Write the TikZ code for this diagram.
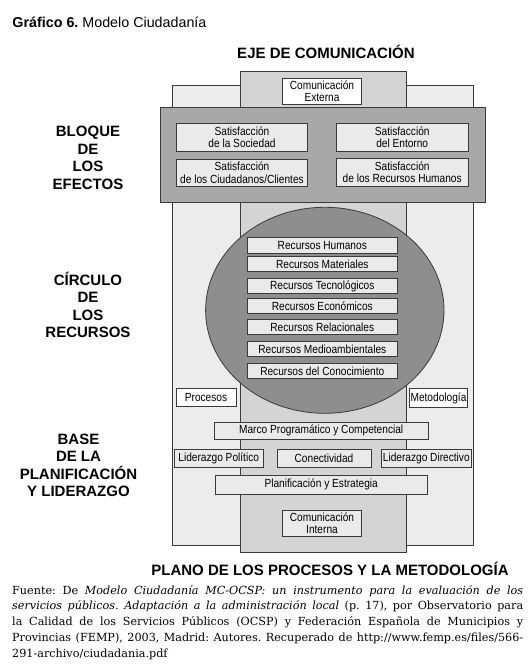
\documentclass[tikz,border=0pt]{standalone}
\usepackage{fontspec}
\setmainfont{Liberation Sans}
\newfontfamily\boxfont[FakeStretch=0.86]{Liberation Sans}
\newfontfamily\notefont{DejaVu Serif}
\usetikzlibrary{shapes.geometric}
\definecolor{linegray}{HTML}{3A3A3A}
\definecolor{backgray}{HTML}{ECECEC}
\definecolor{colgray}{HTML}{D4D4D4}
\definecolor{effgray}{HTML}{A8A8A8}
\definecolor{circgray}{HTML}{8E8E8E}
\definecolor{boxgray}{HTML}{EAEAEA}
\begin{document}
\frenchspacing
\begin{tikzpicture}[x=1pt,y=-1pt,
  frame/.style={draw=linegray, line width=0.8pt},
  box/.style={draw=linegray, fill=boxgray, line width=0.7pt, inner sep=0pt,
    align=center, font=\boxfont\fontsize{11.8}{12.3}\selectfont},
  wbox/.style={box, fill=white},
  heading/.style={anchor=base, inner sep=0pt, font=\bfseries\fontsize{15}{17}\selectfont}]
\useasboundingbox (0,0) rectangle (532,666);
\fill[white] (0,0) rectangle (532,666);

% titles
\node[anchor=base west, inner sep=0pt, font=\fontsize{14.3}{16}\selectfont] (title) at (12.3,27.7) {\textbf{Gráfico 6.} Modelo Ciudadanía};
\node[heading] (eje) at (326,58.3) {EJE DE COMUNICACIÓN};
\node[heading] (plano) at (330,575.7) {PLANO DE LOS PROCESOS Y LA METODOLOGÍA};

% left labels
\foreach \t/\y [count=\i] in {BLOQUE/136,DE/154.3,LOS/171.7,EFECTOS/189.3}
  \node[heading] (bloque\i) at (88,\y) {\t};
\foreach \t/\y [count=\i] in {CÍRCULO/285.3,DE/302.7,LOS/320.3,RECURSOS/337.3}
  \node[heading] (circulo\i) at (88,\y) {\t};
\foreach \t/\y [count=\i] in {BASE/444,DE LA/461.7,PLANIFICACIÓN/479.3,Y LIDERAZGO/496.7}
  \node[heading] (base\i) at (78.5,\y) {\t};

% structure
\draw[frame, fill=backgray] (172.7,85.7) rectangle (473.3,545.7);
\draw[frame, fill=colgray] (240.3,71.7) rectangle (406,552.7);
\draw[frame, fill=effgray] (160.7,107.5) rectangle (485,202.7);
\node[ellipse, draw=linegray, line width=0.8pt, fill=circgray, inner sep=0pt,
  minimum width=238.4pt, minimum height=206pt] (circulo) at (324.8,310.3) {};

% communication boxes
\node[wbox, minimum width=79.4pt, minimum height=26pt] (comext) at (322,91.3) {Comunicación\\Externa};
\node[box, minimum width=79.4pt, minimum height=26.7pt] (comint) at (322,523.3) {Comunicación\\Interna};

% effects
\node[box, minimum width=130.6pt, minimum height=27.5pt] (satsoc) at (242,137.2) {Satisfacción\\de la Sociedad};
\node[box, minimum width=132.3pt, minimum height=27.5pt] (satent) at (402.2,137.4) {Satisfacción\\del Entorno};
\node[box, minimum width=130.6pt, minimum height=27.2pt] (satciu) at (242,172.7) {Satisfacción\\de los Ciudadanos/Clientes};
\node[box, minimum width=132.3pt, minimum height=27.6pt] (satrh) at (402.2,172.5) {Satisfacción\\de los Recursos Humanos};

% resources
\foreach \n/\t/\y in {rh/Recursos Humanos/245.2, rm/Recursos Materiales/263.8,
  rt/Recursos Tecnológicos/286, re/Recursos Económicos/306, rr/Recursos Relacionales/327,
  rma/Recursos Medioambientales/349, rc/Recursos del Conocimiento/371}
  \node[box, minimum width=150pt, minimum height=15.4pt] (\n) at (322.3,\y) {\t};

% processes and methodology
\node[wbox, minimum width=60pt, minimum height=18.4pt] (procesos) at (206,397.5) {Procesos};
\node[wbox, minimum width=58.4pt, minimum height=19.4pt] (metodologia) at (438.5,398) {Metodología};

% planning and leadership
\node[box, minimum width=214.3pt, minimum height=17pt] (marco) at (321.2,430.8) {Marco Programático y Competencial};
\node[box, minimum width=89.3pt, minimum height=18.3pt] (lidpol) at (218.7,458.2) {Liderazgo Político};
\node[box, minimum width=94pt, minimum height=18pt] (conect) at (324,458) {Conectividad};
\node[box, minimum width=90.7pt, minimum height=18pt] (liddir) at (426.3,458) {Liderazgo Directivo};
\node[box, minimum width=212.3pt, minimum height=18.3pt] (planif) at (321.2,484.8) {Planificación y Estrategia};

% source note
\node[anchor=base west, inner sep=0pt, font=\notefont\fontsize{11.2}{15.85}\selectfont] (fuente) at (12,594) {\vtop{\baselineskip=15.85pt
\hbox to 511pt{Fuente: De \textit{Modelo Ciudadanía MC-OCSP: un instrumento para la evaluación de los}}
\hbox to 511pt{\textit{servicios públicos. Adaptación a la administración local} (p.~17), por Observatorio para}
\hbox to 511pt{la Calidad de los Servicios Públicos (OCSP) y Federación Española de Municipios y}
\hbox to 511pt{Provincias (FEMP), 2003, Madrid: Autores. Recuperado de http://www.femp.es/files/566-}
\hbox{291-archivo/ciudadania.pdf}}};
\end{tikzpicture}
\end{document}
